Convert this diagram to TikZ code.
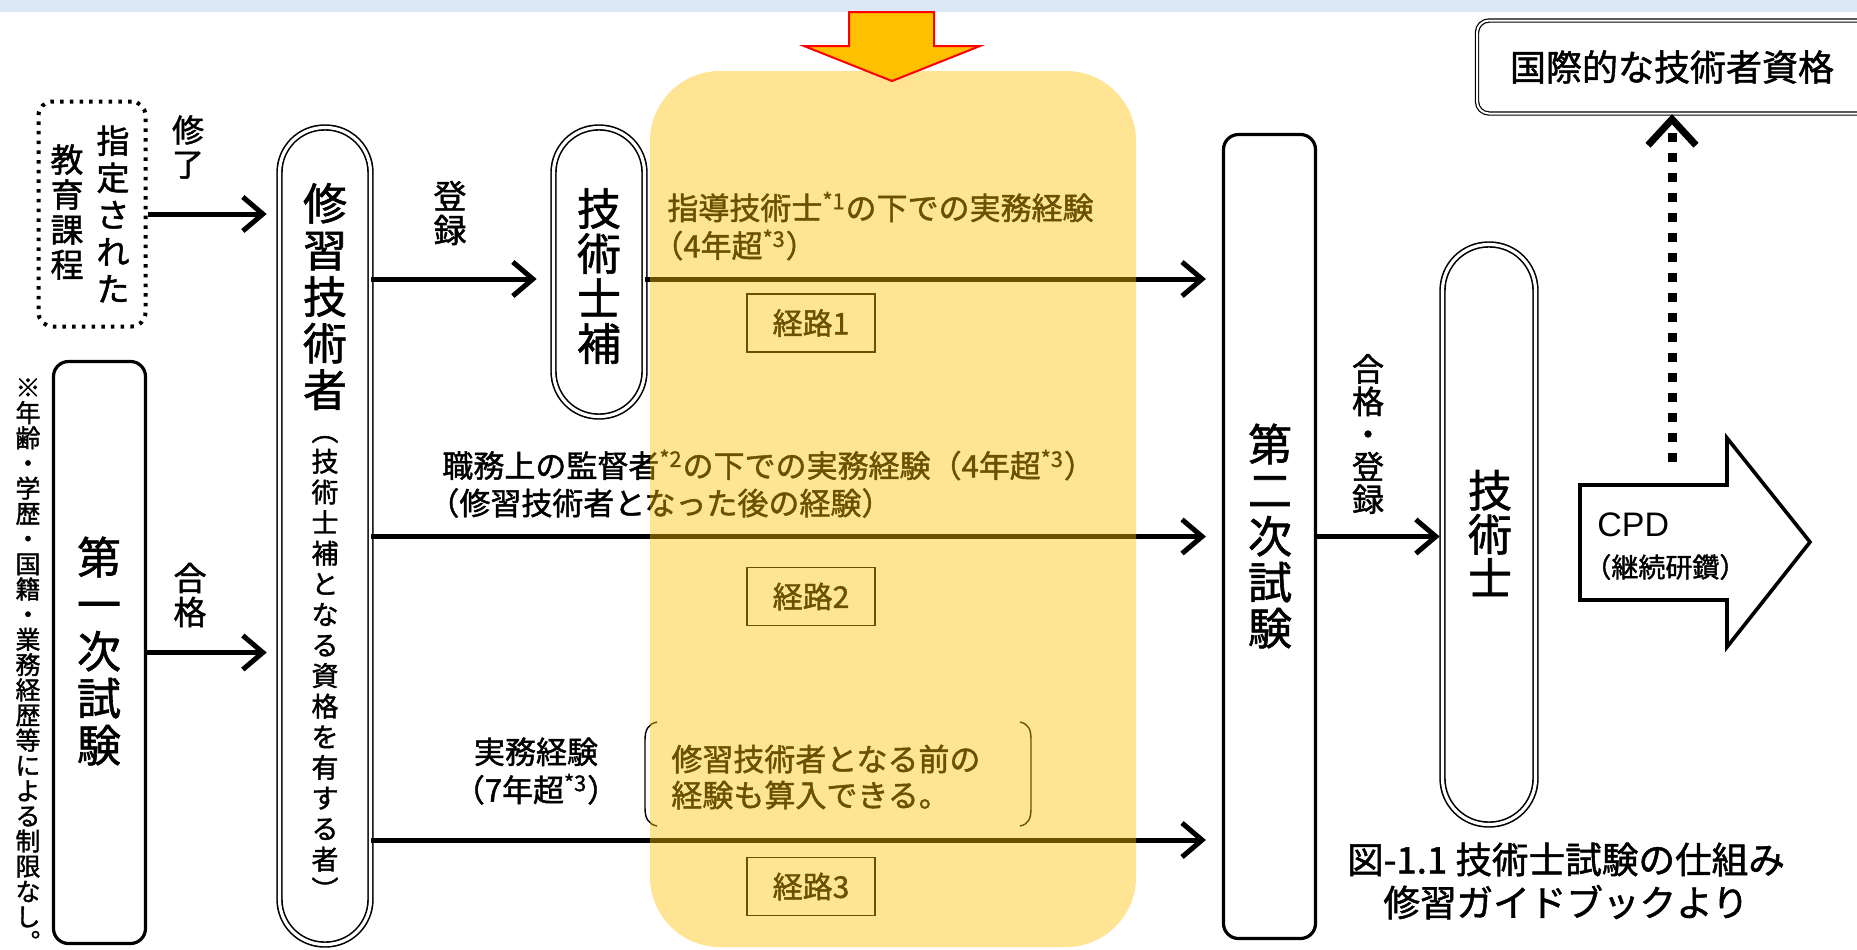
\documentclass[tikz,border=0pt]{standalone}
\usepackage{fontspec}
\setmainfont{Noto Sans CJK JP}[FakeBold=1.4]
\newfontfamily\arialfont{Liberation Sans}
\usetikzlibrary{arrows.meta,calc}
\definecolor{bandblue}{HTML}{DDE8F6}
\definecolor{ovl}{HTML}{FFC000}
\definecolor{dred}{HTML}{FF0000}
\newcommand\fsz[2]{\fontsize{#1}{#2}\selectfont}
\begin{document}
\begin{tikzpicture}[x=0.5pt,y=-0.5pt,
  vtxt/.style={align=center, inner sep=0pt},
  stadium/.style={draw, double, line width=0.8pt, double distance=1.6pt, inner sep=0pt},
  exambox/.style={draw, line width=1.6pt, rounded corners=7.5pt, inner sep=0pt},
  routebox/.style={draw, line width=0.8pt, minimum width=64pt, minimum height=29pt, inner sep=0pt, font=\fsz{15}{18}},
  arr/.style={line width=2.5pt, -{Straight Barb[length=10pt,width=17pt]}},
  htxt/.style={inner sep=0pt, font=\fsz{15.5}{19}},
]
\useasboundingbox (0,0) rectangle (1857,949);
\fill[white] (0,0) rectangle (1857,949);
\fill[bandblue] (0,0) rectangle (1857,12);

% --- left column
\node[draw, line width=2pt, dash pattern=on 1.75pt off 3.1pt, rounded corners=7pt,
      minimum width=53.5pt, minimum height=112.5pt, inner sep=0pt] (edu) at (92,214) {};
\node[vtxt, font=\fsz{16.5}{18.5}] (eduA) at (113,214) {指\\定\\さ\\れ\\た};
\node[vtxt, font=\fsz{16.5}{17.5}] (eduB) at (67,212) {教\\育\\課\\程};

\node[exambox, minimum width=46pt, minimum height=291pt] (first) at (99.5,652.5) {};
\node[vtxt, font=\fsz{22}{23.5}] (firstT) at (99,651) {第\\一\\次\\試\\験};

\node[vtxt, font=\fsz{12.5}{12.6}, anchor=north] (note) at (28,378)
  {※\\年\\齢\\・\\学\\歴\\・\\国\\籍\\・\\業\\務\\経\\歴\\等\\に\\よ\\る\\制\\限\\な\\し\\︒};

\node[vtxt, font=\fsz{16}{17}] (lblA) at (188,147) {修\\了};
\node[vtxt, font=\fsz{16.5}{17}] (lblC) at (190,595) {合\\格};

% --- shuushuu gijutsusha
\node[stadium, rounded corners=22.5pt, minimum width=45.5pt, minimum height=408.5pt] (shu) at (325,536) {};
\node[vtxt, font=\fsz{22}{23.3}] (shuT) at (325,296.5) {修\\習\\技\\術\\者};
\node[vtxt, font=\fsz{13.5}{15.3}] (shuS) at (325,668)
  {︵\\技\\術\\士\\補\\と\\な\\る\\資\\格\\を\\有\\す\\る\\者\\︶};

\node[vtxt, font=\fsz{16.5}{17}] (lblB) at (450,213) {登\\録};

% --- gijutsushiho
\node[stadium, rounded corners=22.5pt, minimum width=45.5pt, minimum height=144.5pt] (hosyu) at (599,272) {};
\node[vtxt, font=\fsz{22}{22.5}] (hosyuT) at (599,276) {技\\術\\士\\補};

% --- route texts
\node[htxt, anchor=west] (t1a) at (667,207) {指導技術士\textsuperscript{*1}の下での実務経験};
\node[htxt, anchor=west] (t1b) at (652,245) {（4年超\textsuperscript{*3}）};
\node[htxt, anchor=west] (t2a) at (442,465) {職務上の監督者\textsuperscript{*2}の下での実務経験（4年超\textsuperscript{*3}）};
\node[htxt, anchor=west] (t2b) at (428,503) {（修習技術者となった後の経験）};
\node[htxt, align=center, font=\fsz{15.5}{19}] (t3) at (536,771) {実務経験\\（7年超\textsuperscript{*3}）};
\node[htxt, align=left, anchor=west, font=\fsz{15.5}{18}] (tb) at (671,777) {修習技術者となる前の\\経験も算入できる。};
\draw[line width=0.7pt] (657,722) .. controls (648,724) and (645,730) .. (645,740) -- (645,808)
   .. controls (645,818) and (648,824) .. (657,826);
\draw[line width=0.7pt] (1020,722) .. controls (1029,724) and (1031,730) .. (1031,740) -- (1031,808)
   .. controls (1031,818) and (1029,824) .. (1020,826);

\node[routebox] (r1) at (811,323) {経路1};
\node[routebox] (r2) at (811,596.5) {経路2};
\node[routebox] (r3) at (811,886.5) {経路3};

% --- second exam
\node[exambox, minimum width=46pt, minimum height=402pt] (second) at (1269.5,536.5) {};
\node[vtxt, font=\fsz{22}{23}] (secondT) at (1270,536) {第\\二\\次\\試\\験};
\node[vtxt, font=\fsz{16}{16.3}] (lblD) at (1368,434) {合\\格\\・\\登\\録};

% --- gijutsushi
\node[stadium, rounded corners=23pt, minimum width=46.5pt, minimum height=290pt] (pe) at (1489,534.5) {};
\node[vtxt, font=\fsz{22}{22}] (peT) at (1490,533) {技\\術\\士};

% --- international
\node[draw, double, line width=0.6pt, double distance=1pt, rounded corners=6pt,
      minimum width=260pt, minimum height=46.5pt, inner sep=0pt] (intlbox) at (1737,67) {};
\node[inner sep=0pt, font=\fsz{18}{20}] (intl) at (1672,67) {国際的な技術者資格};

% --- CPD arrow
\draw[line width=1.8pt, line join=miter] (1580,485) -- (1727,485) -- (1727,438) -- (1810,542)
   -- (1727,647) -- (1727,600) -- (1580,600) -- cycle;
\node[inner sep=0pt, anchor=west, font=\arialfont\fsz{17}{19}] (cpd) at (1597,525) {CPD};
\node[inner sep=0pt, anchor=west, font=\fsz{13.5}{15}] (cpdj) at (1584,567) {（継続研鑽）};

% --- caption
\node[align=center, inner sep=0pt, font=\fsz{18.3}{21.5}] (cap) at (1566,881) {図-1.1 技術士試験の仕組み\\修習ガイドブックより};

% --- connectors
\draw[arr, shorten >=6pt] (edu.east) -- (shu.west |- edu.east);
\draw[arr, shorten >=6pt] (first.east) -- (shu.west |- first.east);
\coordinate (p1) at ([yshift=-3.5pt]hosyu.west);
\draw[arr, shorten >=8pt] (shu.east |- p1) -- (p1);
\draw[arr, shorten >=8pt] (hosyu.east |- p1) -- (second.west |- p1);
\draw[arr, shorten >=8pt] (shu.east |- second.west) -- (second.west);
\coordinate (p3) at ([yshift=-151.75pt]second.west);
\draw[arr, shorten >=8pt] (shu.east |- p3) -- (p3);
\draw[arr, shorten >=1pt] (second.east) -- (pe.west |- second.east);

\coordinate (dstart) at (1672,462);
\draw[line width=4.5pt, dash pattern=on 4.5pt off 5.5pt,
      -{Straight Barb[length=13pt,width=24pt,line width=3.5pt]}] (dstart) -- (intlbox.south -| dstart);

% --- yellow overlay and top arrow
\fill[ovl, opacity=0.42, rounded corners=35pt] (650,71) rectangle (1136,947);
\draw[dred, line width=1pt, fill=ovl, line join=miter] (849,12) -- (934,12) -- (934,46) -- (980,46)
   -- (892,81) -- (804,46) -- (849,46) -- cycle;
\end{tikzpicture}
\end{document}
